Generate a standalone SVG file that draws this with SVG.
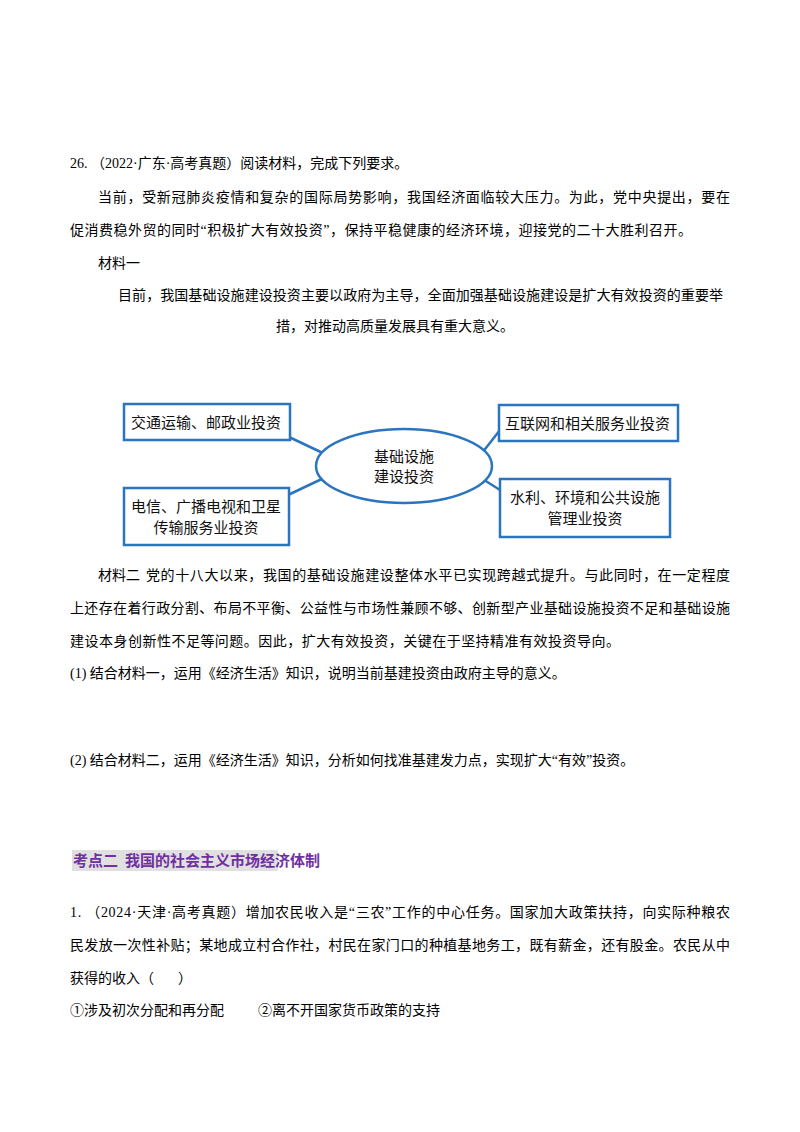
<svg xmlns="http://www.w3.org/2000/svg" width="800" height="1132" viewBox="0 0 800 1132">
<style>
.t{font-family:"Liberation Serif","Noto Sans CJK SC",serif;font-size:14px;fill:#000}
.d{font-family:"Noto Sans CJK SC",sans-serif;font-size:15px;fill:#111}
.b{fill:#fff;stroke:#2a74c0;stroke-width:2.5}
.c{stroke:#2a74c0;stroke-width:2.5;fill:none}
.h{font-family:"Noto Sans CJK SC",sans-serif;font-size:15px;font-weight:bold;fill:#7030a0}
</style>
<rect width="800" height="1132" fill="#fff"/>
<text class="t" x="70" y="168">26. （2022·广东·高考真题）阅读材料，完成下列要求。</text>
<text class="t" x="98" y="202" textLength="632">当前，受新冠肺炎疫情和复杂的国际局势影响，我国经济面临较大压力。为此，党中央提出，要在</text>
<text class="t" x="70" y="235" textLength="622">促消费稳外贸的同时“积极扩大有效投资”，保持平稳健康的经济环境，迎接党的二十大胜利召开。</text>
<text class="t" x="98" y="268">材料一</text>
<text class="t" x="118" y="300" textLength="605">目前，我国基础设施建设投资主要以政府为主导，全面加强基础设施建设是扩大有效投资的重要举</text>
<text class="t" x="276" y="331">措，对推动高质量发展具有重大意义。</text>
<g id="connectors">
<line class="c" x1="289" y1="437" x2="327" y2="455"/>
<line class="c" x1="288" y1="495" x2="326" y2="477"/>
<line class="c" x1="500" y1="430" x2="482" y2="453"/>
<line class="c" x1="500" y1="490" x2="481" y2="478"/>
</g>
<g id="center"><ellipse class="b" cx="404" cy="466" rx="88" ry="37"/><text class="d" x="404" y="462" text-anchor="middle">基础设施</text><text class="d" x="404" y="482" text-anchor="middle">建设投资</text></g>
<g id="n1"><rect class="b" x="124" y="404" width="166" height="36"/><text class="d" x="131" y="428">交通运输、邮政业投资</text></g>
<g id="n2"><rect class="b" x="499" y="405" width="179" height="36"/><text class="d" x="505" y="429">互联网和相关服务业投资</text></g>
<g id="n3"><rect class="b" x="124" y="488" width="165" height="57"/><text class="d" x="206" y="512" text-anchor="middle">电信、广播电视和卫星</text><text class="d" x="206" y="533" text-anchor="middle">传输服务业投资</text></g>
<g id="n4"><rect class="b" x="500" y="479" width="170" height="58"/><text class="d" x="585" y="503" text-anchor="middle">水利、环境和公共设施</text><text class="d" x="585" y="524" text-anchor="middle">管理业投资</text></g>
<text class="t" y="580"><tspan x="98">材料二</tspan><tspan x="146" textLength="584">党的十八大以来，我国的基础设施建设整体水平已实现跨越式提升。与此同时，在一定程度</tspan></text>
<text class="t" x="70" y="613" textLength="660">上还存在着行政分割、布局不平衡、公益性与市场性兼顾不够、创新型产业基础设施投资不足和基础设施</text>
<text class="t" x="70" y="646" textLength="550">建设本身创新性不足等问题。因此，扩大有效投资，关键在于坚持精准有效投资导向。</text>
<text class="t" x="70" y="678">(1) 结合材料一，运用《经济生活》知识，说明当前基建投资由政府主导的意义。</text>
<text class="t" x="70" y="765">(2) 结合材料二，运用《经济生活》知识，分析如何找准基建发力点，实现扩大“有效”投资。</text>
<rect x="72" y="850" width="206" height="21" fill="#e0e0e0"/>
<text class="h" y="866"><tspan x="73">考点二</tspan><tspan x="125">我国的社会主义市场经济体制</tspan></text>
<text class="t" x="70" y="917" textLength="660">1. （2024·天津·高考真题）增加农民收入是“三农”工作的中心任务。国家加大政策扶持，向实际种粮农</text>
<text class="t" x="70" y="950" textLength="660">民发放一次性补贴；某地成立村合作社，村民在家门口的种植基地务工，既有薪金，还有股金。农民从中</text>
<text class="t" y="983"><tspan x="70">获得的收入（</tspan><tspan x="178">）</tspan></text>
<text class="t" y="1015"><tspan x="70">①涉及初次分配和再分配</tspan><tspan x="258">②离不开国家货币政策的支持</tspan></text>
</svg>
